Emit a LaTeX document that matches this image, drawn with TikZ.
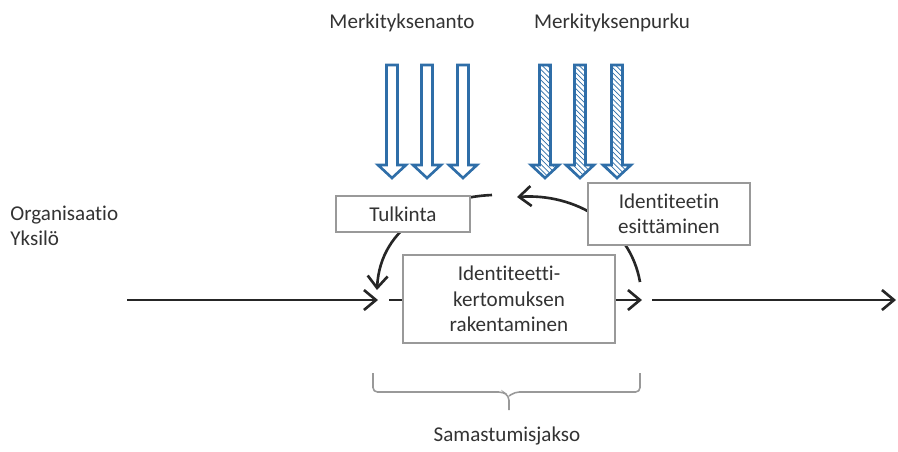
\documentclass[tikz,border=0pt]{standalone}
\usepackage{fontspec}
\setmainfont{Carlito}[Ligatures=NoCommon]
\usetikzlibrary{arrows.meta,patterns}
\definecolor{textgray}{HTML}{333333}
\definecolor{arrowblue}{HTML}{2F6EA8}

\begin{document}
\begin{tikzpicture}[
  x=0.02cm, y=-0.02cm,
  every node/.style={font=\fontsize{12}{14.4}\selectfont, text=textgray, inner sep=0pt},
  box/.style={draw=gray!80, line width=0.8pt, fill=white, align=center},
  flow/.style={line width=1.5pt, draw=black!85, -{Straight Barb[length=2.4mm,width=4mm,line width=1.5pt]}},
  plain/.style={line width=1.5pt, draw=black!85},
  openarrow/.style={draw=arrowblue, line width=1.5pt, fill=white, line join=miter},
  hatcharrow/.style={openarrow, pattern=north west lines, pattern color=arrowblue}
]
\useasboundingbox (0,0) rectangle (898,451);

% labels
\node (anto)  at (402,23) {Merkityksenanto};
\node (purku) at (612,23) {Merkityksenpurku};
\node[anchor=west, align=left] (taso) at (10,226) {Organisaatio\\Yksilö};

% big arrows
\foreach \x in {392,427,463}
  \draw[openarrow] ({\x-5.5},65) -- ({\x+5.5},65) -- ({\x+5.5},165) -- ({\x+14},165)
    -- (\x,178) -- ({\x-14},165) -- ({\x-5.5},165) -- cycle;
\foreach \x in {545,580,617}
  \draw[hatcharrow] ({\x-5.5},65) -- ({\x+5.5},65) -- ({\x+5.5},165) -- ({\x+14},165)
    -- (\x,178) -- ({\x-14},165) -- ({\x-5.5},165) -- cycle;

% cycle
\coordinate (upstart) at (640,282);
\coordinate (uptip) at (517,197);
\coordinate (downstart) at (492,195);
\coordinate (downtip) at (377,290);
\draw[flow] (upstart) .. controls (630,225) and (575,193) .. (uptip);
\draw[flow] (downstart) .. controls (440,197) and (380,225) .. (downtip);

% boxes
\node[box, minimum width=134*0.02cm, minimum height=36*0.02cm] (tulkinta) at (403,214) {Tulkinta};
\node[box, minimum width=162*0.02cm, minimum height=62*0.02cm] (esitt) at (669,214) {Identiteetin\\esittäminen};
\node[box, minimum width=212*0.02cm, minimum height=88*0.02cm] (rakent) at (509,299) {Identiteetti-\\kertomuksen\\rakentaminen};

% main line
\coordinate (alku) at (127,300);
\coordinate (tulo) at (378,300);
\coordinate (gapL) at (389,300);
\coordinate (meno) at (642,300);
\coordinate (jatko) at (652,300);
\coordinate (loppu) at (896,300);
\draw[flow] (alku) -- (tulo);
\draw[plain] (gapL) -- (rakent.west |- gapL);
\draw[flow] (rakent.east |- meno) -- (meno);
\draw[flow] (jatko) -- (loppu);

% brace
\coordinate (bl) at (373,373);
\coordinate (br) at (640,373);
\coordinate (bmid) at (509,410);
\draw[gray!80, line width=0.9pt, rounded corners=2.5pt]
  (bl) -- (373,392) -- (503,392) -- (bmid |- 0,396) -- (bmid);
\draw[gray!80, line width=0.9pt, rounded corners=2.5pt]
  (br) -- (640,392) -- (515,392) -- (bmid |- 0,396);
\node (jakso) at (507,436) {Samastumisjakso};
\end{tikzpicture}
\end{document}
